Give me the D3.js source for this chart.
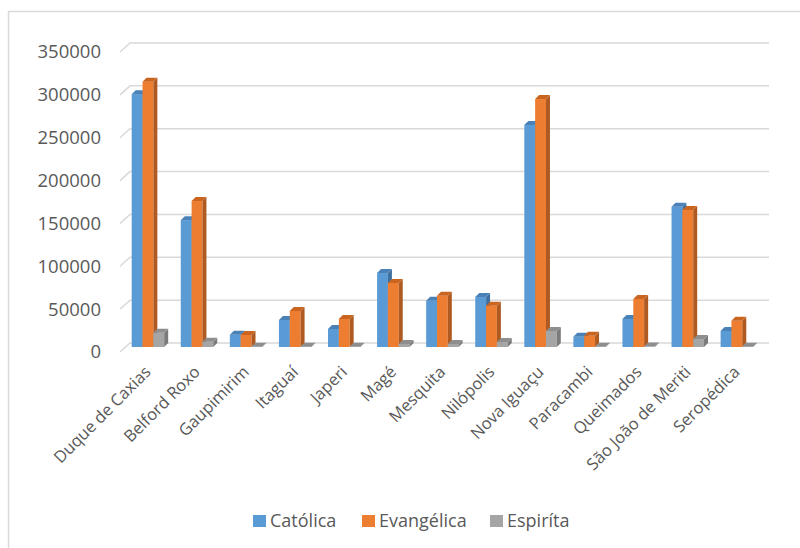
<!DOCTYPE html>
<head>
  <meta charset="utf-8">
  <script src="https://d3js.org/d3.v7.min.js"></script>
  <style>
  *{
    margin:0;
    padding:0;
  }
  body{
    background: #fff;
    font-family: 'Open Sans', sans-serif;
  }
  text{
    fill: #595959;
  }
  </style>
</head>
<body>
  <svg id="viz"></svg>
  <script>
    // data
    let cities = ["Duque de Caxias", "Belford Roxo", "Gaupimirim", "Itaguaí", "Japeri", "Magé",
                  "Mesquita", "Nilópolis", "Nova Iguaçu", "Paracambi", "Queimados",
                  "São João de Meriti", "Seropédica"];
    let series = ["Católica", "Evangélica", "Espiríta"];
    let catolica   = [295000, 148000, 14400, 31500, 21000, 86300, 54000, 58300, 259000, 12000, 32700, 163700, 18700];
    let evangelica = [309500, 170300, 14000, 42000, 32700, 74700, 59800, 48200, 289300, 13200, 56000, 159800, 30700];
    let espirita   = [16700, 6200, 300, 400, 300, 3500, 3500, 5800, 18700, 300, 500, 9300, 300];
    let yTicks = [0, 50000, 100000, 150000, 200000, 250000, 300000, 350000];

    let values = [catolica, evangelica, espirita];
    let frontCol = ["#5B9BD5", "#ED7D31", "#A5A5A5"];
    let sideCol  = ["#3E70A0", "#AE5A21", "#7B7B7B"];
    let topCol   = ["#4A82B8", "#C9651F", "#8E8E8E"];

    let svg = d3.select("svg")
      .attr("width", 800)
      .attr("height", 548);

    //chart border
    svg.append("rect")
      .attr("x", 8.5).attr("y", 11.5)
      .attr("width", 800).attr("height", 600)
      .attr("fill", "none")
      .attr("stroke", "#d9d9d9")
      .attr("stroke-width", 1.5);

    //back wall scale
    let y = d3.scaleLinear().domain([0, 350000]).range([343, 43]);
    let wallLeft = 130, wallRight = 769;
    let fdx = 10, fdy = 9;   // floor depth
    let d = 4;               // bar depth

    //gridlines
    let grid = svg.append("g");
    yTicks.forEach(t => {
      grid.append("path")
        .attr("d", `M${wallLeft - fdx},${y(t) + fdy}L${wallLeft},${y(t)}L${wallRight},${y(t)}`)
        .attr("fill", "none")
        .attr("stroke", "#d9d9d9")
        .attr("stroke-width", 1.5);
      grid.append("text")
        .attr("x", 101)
        .attr("y", y(t) + fdy)
        .attr("dy", "0.35em")
        .attr("text-anchor", "end")
        .style("font-size", "18.5px")
        .text(t);
    });

    //bands
    let x = d3.scaleBand().domain(cities).range([123.4, 761.4])
      .paddingInner(0.338).paddingOuter(0.169);
    let xs = d3.scaleBand().domain(series).range([0, x.bandwidth()]);
    let bw = xs.bandwidth();

    let groups = svg.selectAll("g.city")
      .data(cities)
      .enter()
      .append("g")
      .attr("class", "city")
      .attr("transform", c => `translate(${x(c)},0)`);

    series.forEach((s, si) => {
      let bars = groups.append("g");
      let bx = xs(s);
      //front
      bars.append("rect")
        .attr("x", bx)
        .attr("y", (c, i) => y(values[si][i]) + d)
        .attr("width", bw)
        .attr("height", (c, i) => y(0) - y(values[si][i]))
        .attr("fill", frontCol[si]);
      //right side
      bars.append("path")
        .attr("d", (c, i) => {
          let yt = y(values[si][i]) + d, yb = y(0) + d;
          return `M${bx + bw},${yt}L${bx + bw + d},${yt - d}L${bx + bw + d},${yb - d}L${bx + bw},${yb}Z`;
        })
        .attr("fill", sideCol[si]);
      //top
      bars.append("path")
        .attr("d", (c, i) => {
          let yt = y(values[si][i]) + d;
          return `M${bx},${yt}L${bx + d},${yt - d}L${bx + bw + d},${yt - d}L${bx + bw},${yt}Z`;
        })
        .attr("fill", topCol[si]);
    });

    //category labels
    groups.append("text")
      .attr("transform", `translate(${x.bandwidth() / 2 + 4},373) rotate(-45)`)
      .attr("text-anchor", "end")
      .style("font-size", "16.5px")
      .text(c => c);

    //legend
    let legX = [253, 362, 490];
    let legend = svg.selectAll("g.leg")
      .data(series)
      .enter()
      .append("g")
      .attr("class", "leg")
      .attr("transform", (s, i) => `translate(${legX[i]},515)`);
    legend.append("rect")
      .attr("width", 13).attr("height", 12)
      .attr("fill", (s, i) => frontCol[i]);
    legend.append("text")
      .attr("x", 17).attr("y", 6)
      .attr("dy", "0.35em")
      .style("font-size", "18px")
      .text(s => s);
  </script>
</body>
